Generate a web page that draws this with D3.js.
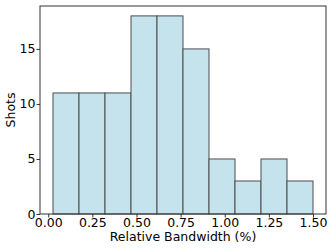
<!DOCTYPE html>
<html>
<head>
<meta charset="utf-8">
<script src="https://cdn.jsdelivr.net/npm/d3@7"></script>
<style>
  body { margin: 0; background: #fff; }
  text { font-family: "DejaVu Sans", sans-serif; fill: #000; }
</style>
</head>
<body>
<div id="chart"></div>
<script>
// histogram bins (relative bandwidth %) and counts
const binStart = 0.027;
const binWidth = 0.1473;
const counts = [11, 11, 11, 18, 18, 15, 5, 3, 5, 3];
const xTicks = [0, 0.25, 0.5, 0.75, 1.0, 1.25, 1.5];
const yTicks = [0, 5, 10, 15];

const width = 333, height = 250;
const margin = {top: 6, right: 7, bottom: 36, left: 40};
const fontSize = '12.5px';

const svg = d3.select('#chart').append('svg')
  .attr('width', width)
  .attr('height', height);

const bins = counts.map((c, i) => ({
  x0: binStart + i * binWidth,
  x1: binStart + (i + 1) * binWidth,
  n: c
}));

const xMin = bins[0].x0, xMax = bins[bins.length - 1].x1;
const pad = (xMax - xMin) * 0.05;

const x = d3.scaleLinear()
  .domain([xMin - pad, xMax + pad])
  .range([margin.left, width - margin.right]);

const y = d3.scaleLinear()
  .domain([0, d3.max(counts) * 1.05])
  .range([height - margin.bottom, margin.top]);

// bars
svg.append('g').selectAll('rect')
  .data(bins).enter()
  .append('rect')
  .attr('x', d => x(d.x0))
  .attr('y', d => y(d.n))
  .attr('width', d => x(d.x1) - x(d.x0))
  .attr('height', d => y(0) - y(d.n))
  .attr('fill', '#c5e3ed')
  .attr('stroke', '#4d4d4d')
  .attr('stroke-width', 1);

// axes
const xAxis = svg.append('g')
  .attr('transform', `translate(0,${height - margin.bottom})`)
  .call(d3.axisBottom(x).tickValues(xTicks).tickFormat(d3.format('.2f')).tickSize(3.5).tickPadding(1));

const yAxis = svg.append('g')
  .attr('transform', `translate(${margin.left},0)`)
  .call(d3.axisLeft(y).tickValues(yTicks).tickSize(3.5).tickPadding(1));

[xAxis, yAxis].forEach(a => {
  a.select('.domain').remove();
  a.selectAll('text').style('font-size', fontSize).style('font-family', '"DejaVu Sans", sans-serif').attr('fill', '#000');
  a.selectAll('line').attr('stroke', '#333');
});

// frame
svg.append('rect')
  .attr('x', margin.left)
  .attr('y', margin.top)
  .attr('width', width - margin.left - margin.right)
  .attr('height', height - margin.top - margin.bottom)
  .attr('fill', 'none')
  .attr('stroke', '#333')
  .attr('stroke-width', 1);

// labels
svg.append('text')
  .attr('x', (margin.left + width - margin.right) / 2)
  .attr('y', height - 9)
  .attr('text-anchor', 'middle')
  .style('font-size', fontSize)
  .text('Relative Bandwidth (%)');

svg.append('text')
  .attr('transform', `translate(15,${(margin.top + height - margin.bottom) / 2}) rotate(-90)`)
  .attr('text-anchor', 'middle')
  .style('font-size', fontSize)
  .text('Shots');
</script>
</body>
</html>
